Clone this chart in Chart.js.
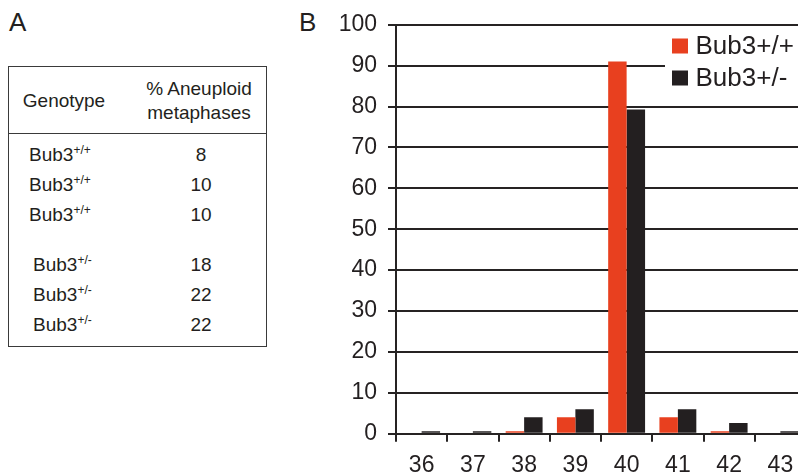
<!DOCTYPE html>
<html>
<head>
<meta charset="utf-8">
<script src="https://cdn.jsdelivr.net/npm/chart.js@4/dist/chart.umd.min.js"></script>
<style>
  html, body { margin: 0; padding: 0; background: #fff; }
  body { width: 798px; height: 476px; overflow: hidden; position: relative;
         font-family: 'Liberation Sans', Arial, Helvetica, sans-serif; color: #231f20; }
  .panel { position: absolute; font-size: 26px; line-height: 1; }
  #tbl { position: absolute; left: 8px; top: 66px; width: 257px; height: 279px;
         border: 1.5px solid #3a3a3a; }
  #tbl .rule { position: absolute; left: 0; right: 0; top: 66px; border-top: 1.5px solid #3a3a3a; }
  #tbl .t { position: absolute; font-size: 19px; line-height: 1; white-space: nowrap; }
  #tbl .c { transform: translate(-50%, -50%); }
  #tbl .l { transform: translate(0, -50%); }
  #tbl sup { font-size: 12px; vertical-align: 0; position: relative; top: -7px; }
  #chartBox { position: absolute; left: 300px; top: 0; width: 520px; height: 476px; }
</style>
</head>
<body>
<div class="panel" style="left:9px; top:9px;">A</div>
<div class="panel" style="left:299px; top:9px;">B</div>

<div id="tbl">
  <div class="rule"></div>
</div>

<div id="chartBox"><canvas id="chart" width="520" height="476"></canvas></div>

<script>
// Panel A: aneuploidy per animal
const tableHeaders = ['Genotype', '% Aneuploid', 'metaphases'];
const genotypes = ['+/+', '+/+', '+/+', '+/-', '+/-', '+/-'];
const aneuploidPercent = [8, 10, 10, 18, 22, 22];

// Panel B: chromosome count distribution (% of metaphases)
const chromosomeCounts = ['36', '37', '38', '39', '40', '41', '42', '43'];
const wildTypeLabel = 'Bub3+/+';
const heteroLabel = 'Bub3+/-';
const wildTypeValues = [0, 0, 0.6, 4, 91, 4, 0.6, 0];
const heteroValues = [0.6, 0.6, 4, 6, 79.3, 6, 2.6, 0.6];
const yTicks = [0, 10, 20, 30, 40, 50, 60, 70, 80, 90, 100];

// ---- build the table ----
const tbl = document.getElementById('tbl');
function addText(html, x, y, cls) {
  const d = document.createElement('div');
  d.className = 't ' + cls;
  d.style.left = x + 'px';
  d.style.top = y + 'px';
  d.innerHTML = html;
  tbl.appendChild(d);
}
addText(tableHeaders[0], 55, 33, 'c');
addText(tableHeaders[1], 190, 21, 'c');
addText(tableHeaders[2], 190, 45, 'c');
const rowY = [87, 117, 147, 197, 227, 257];
genotypes.forEach((g, i) => {
  const x = g === '+/+' ? 20 : 24;
  addText('Bub3<sup>' + g + '</sup>', x, rowY[i], 'l');
  addText(String(aneuploidPercent[i]), 192, rowY[i], 'c');
});

// ---- chart ----
const ink = '#262323';
const red = '#e8401f';
const black = '#231f20';
const font = { family: "'Liberation Sans', Arial, Helvetica, sans-serif", size: 23 };

// legend drawn on a white patch inside the plot area
const insetLegend = {
  id: 'insetLegend',
  afterDraw(chart) {
    const ctx = chart.ctx;
    ctx.save();
    ctx.fillStyle = '#fff';
    ctx.fillRect(365, 27, 160, 77);
    ctx.font = "26px 'Liberation Sans', Arial, Helvetica, sans-serif";
    ctx.textBaseline = 'alphabetic';
    chart.data.datasets.forEach((ds, i) => {
      const y = 38.5 + i * 32;
      ctx.fillStyle = ds.backgroundColor;
      ctx.fillRect(372, y, 16, 15);
      ctx.fillStyle = black;
      ctx.fillText(ds.label, 395.5, y + 15.5);
    });
    ctx.restore();
  }
};

new Chart(document.getElementById('chart'), {
  type: 'bar',
  data: {
    labels: chromosomeCounts,
    datasets: [
      { label: wildTypeLabel, data: wildTypeValues, backgroundColor: red },
      { label: heteroLabel, data: heteroValues, backgroundColor: black }
    ]
  },
  options: {
    responsive: false,
    animation: false,
    devicePixelRatio: 1,
    layout: { padding: { left: 0, right: 14, top: 24.7, bottom: 0 } },
    categoryPercentage: 0.72,
    barPercentage: 1.0,
    plugins: { legend: { display: false }, tooltip: { enabled: false } },
    scales: {
      x: {
        grid: { display: true, drawOnChartArea: false, drawTicks: true, tickLength: 8,
                offset: true, color: ink, lineWidth: 2 },
        border: { display: true, color: ink, width: 2 },
        ticks: { font: font, color: black, padding: 10, maxRotation: 0, autoSkip: false },
        afterFit(s) { s.height = 42.3; }
      },
      y: {
        min: 0, max: 100,
        afterBuildTicks(s) { s.ticks = yTicks.map(v => ({ value: v })); },
        grid: { color: ink, lineWidth: 2, tickLength: 8, drawTicks: true },
        border: { display: true, color: ink, width: 2 },
        ticks: { font: font, color: black, padding: 11 },
        afterFit(s) { s.width = 96; }
      }
    }
  },
  plugins: [insetLegend]
});
</script>
</body>
</html>
